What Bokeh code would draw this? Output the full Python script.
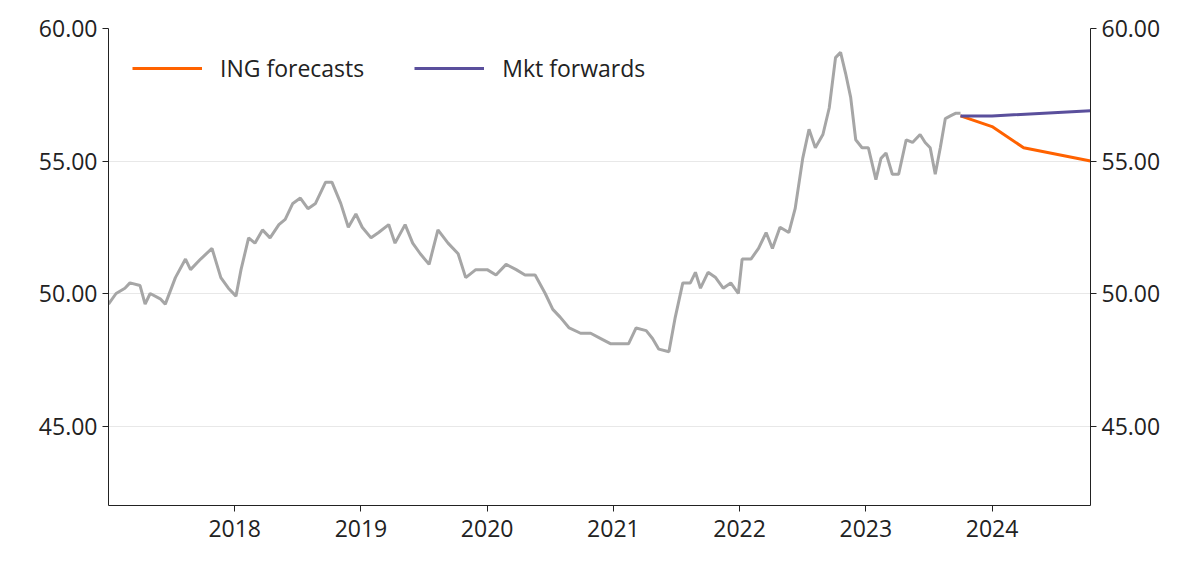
from bokeh.plotting import figure
from bokeh.models import LinearAxis, FixedTicker, NumeralTickFormatter, Legend, LegendItem, Range1d
from bokeh.embed import file_html
from bokeh.resources import INLINE

hist_x = [2017.00,2017.06,2017.13,2017.17,2017.25,2017.29,2017.33,2017.41,2017.45,2017.53,2017.61,2017.65,2017.73,2017.82,2017.89,2017.95,
2018.01,2018.05,2018.11,2018.16,2018.22,2018.28,2018.35,2018.40,2018.46,2018.52,2018.58,2018.64,2018.72,2018.77,2018.84,2018.90,2018.96,
2019.01,2019.08,2019.14,2019.22,2019.27,2019.35,2019.41,2019.47,2019.54,2019.61,2019.69,2019.77,2019.83,2019.91,
2020.00,2020.07,2020.15,2020.23,2020.30,2020.38,2020.46,2020.52,2020.58,2020.65,2020.74,2020.82,2020.90,2020.98,
2021.06,2021.12,2021.18,2021.26,2021.31,2021.36,2021.44,2021.49,2021.55,2021.61,2021.65,2021.69,2021.75,2021.81,2021.87,2021.93,2021.99,
2022.02,2022.09,2022.15,2022.21,2022.26,2022.32,2022.39,2022.44,2022.50,2022.55,2022.60,2022.66,2022.71,2022.76,2022.80,2022.84,2022.88,2022.92,2022.97,
2023.02,2023.08,2023.12,2023.16,2023.21,2023.26,2023.32,2023.37,2023.43,2023.47,2023.51,2023.55,2023.59,2023.63,2023.67,2023.71,2023.75]
hist_y = [49.6,50.0,50.2,50.4,50.3,49.6,50.0,49.8,49.6,50.6,51.3,50.9,51.3,51.7,50.6,50.2,
49.9,50.9,52.1,51.9,52.4,52.1,52.6,52.8,53.4,53.6,53.2,53.4,54.2,54.2,53.4,52.5,53.0,
52.5,52.1,52.3,52.6,51.9,52.6,51.9,51.5,51.1,52.4,51.9,51.5,50.6,50.9,
50.9,50.7,51.1,50.9,50.7,50.7,50.0,49.4,49.1,48.7,48.5,48.5,48.3,48.1,
48.1,48.1,48.7,48.6,48.3,47.9,47.8,49.1,50.4,50.4,50.8,50.2,50.8,50.6,50.2,50.4,50.0,
51.3,51.3,51.7,52.3,51.7,52.5,52.3,53.2,55.1,56.2,55.5,56.0,57.0,58.9,59.1,58.3,57.4,55.8,55.5,
55.5,54.3,55.1,55.3,54.5,54.5,55.8,55.7,56.0,55.7,55.5,54.5,55.5,56.6,56.7,56.8,56.8]
ing_x = [2023.75, 2024.00, 2024.25, 2024.78]
ing_y = [56.7, 56.3, 55.5, 55.0]
fwd_x = [2023.75, 2024.00, 2024.78]
fwd_y = [56.7, 56.7, 56.9]
y_ticks = [45, 50, 55, 60]
x_ticks = [2018, 2019, 2020, 2021, 2022, 2023, 2024]

FONT = "Open Sans"
p = figure(width=1184, height=556, output_backend="svg", toolbar_location=None,
           x_range=Range1d(2017.0, 2024.78), y_range=Range1d(42, 60),
           min_border_left=108, min_border_right=94, min_border_top=28, min_border_bottom=51)
p.outline_line_color = None
p.background_fill_color = "white"
p.xgrid.visible = False
p.ygrid.ticker = FixedTicker(ticks=y_ticks)
p.ygrid.grid_line_color = "#e8e8e8"

p.line(hist_x, hist_y, color="#a6a6a6", line_width=3)
r1 = p.line(ing_x, ing_y, color="#ff6200", line_width=3)
r2 = p.line(fwd_x, fwd_y, color="#5a4f9c", line_width=3)

ra = LinearAxis()
p.add_layout(ra, "right")
for ax in [p.yaxis[0], ra]:
    ax.ticker = FixedTicker(ticks=y_ticks)
    ax.formatter = NumeralTickFormatter(format="0.00")
for ax in p.axis:
    ax.major_label_text_font = FONT
    ax.major_label_text_font_size = "23px"
    ax.major_label_text_color = "#222222"
    ax.axis_line_color = "#222222"
    ax.major_tick_line_color = "#222222"
    ax.major_tick_in = 0
    ax.major_tick_out = 6
    ax.minor_tick_line_color = None
p.xaxis.ticker = FixedTicker(ticks=x_ticks)
p.xaxis.major_label_standoff = 8

leg = Legend(items=[LegendItem(label="ING forecasts", renderers=[r1]),
                    LegendItem(label="Mkt forwards", renderers=[r2])],
             orientation="horizontal", location="top_left",
             label_text_font=FONT, label_text_font_size="23px", label_text_color="#222222",
             border_line_color=None, background_fill_alpha=0,
             glyph_width=70, spacing=50, label_standoff=18, margin=24, padding=10)
p.add_layout(leg)

open("out.html", "w").write(file_html(p, INLINE))
